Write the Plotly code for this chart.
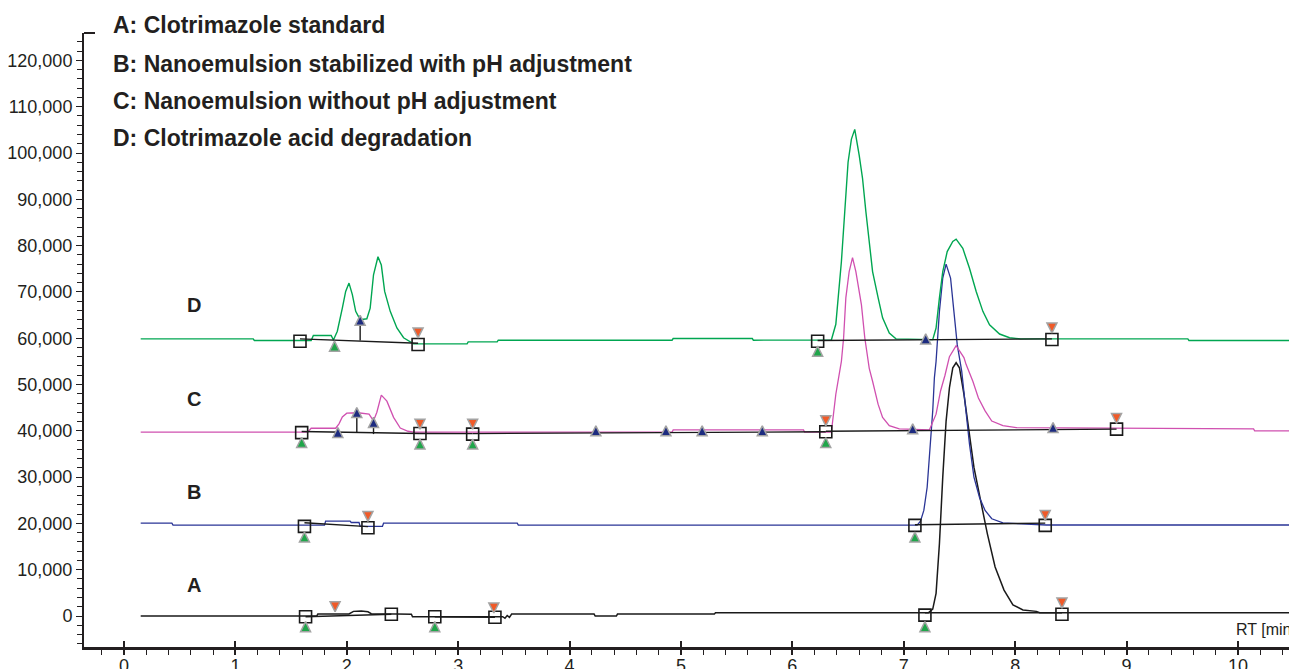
import plotly.graph_objects as go

FONT = "Liberation Sans, Arial, sans-serif"
INK = "#231f20"

# ---------------- chromatogram traces (RT [min], signal incl. offset) ----------------
a_t = [0.15, 1.73, 1.74, 2.02, 2.06, 2.13, 2.19, 2.22, 2.45, 2.58, 2.59, 3.40, 3.42, 3.44, 3.46, 3.48,
       4.22, 4.23, 4.42, 4.43, 5.30, 5.31, 7.22, 7.26, 7.29, 7.32, 7.35, 7.38, 7.41, 7.44, 7.47,
       7.50, 7.54, 7.59, 7.63, 7.69, 7.75, 7.82, 7.90, 7.98, 8.07, 8.19, 8.22, 10.6]
a_v = [0, 0, 430, 430, 1000, 1100, 900, 500, 450, 400, -150, -150, -500, 100, -300, 430,
       430, 0, 0, 430, 430, 700, 700, 1500, 4900, 15600, 30000, 42100, 49300, 53600, 54700,
       53600, 47900, 39300, 32100, 24900, 17800, 10600, 5600, 2400, 1300, 1000, 700, 700]

b_t = [0.15, 0.43, 0.44, 1.80, 1.81, 2.03, 2.04, 2.11, 2.12, 2.32, 2.33, 3.53, 3.54, 7.12, 7.15,
       7.18, 7.21, 7.24, 7.26, 7.275, 7.29, 7.32, 7.35, 7.38, 7.42, 7.45, 7.48, 7.52, 7.56, 7.59,
       7.63, 7.68, 7.73, 7.79, 7.89, 8.04, 8.28, 10.6]
b_v = [20050, 20050, 19630, 19630, 20500, 20500, 20200, 20200, 19350, 19350, 20050, 20050, 19630, 19630, 20500,
       22800, 27800, 37100, 44300, 51500, 55000, 65800, 73000, 76000, 73000, 65800, 58600, 52900, 44300, 37100,
       30000, 25600, 22800, 21000, 20100, 19900, 19650, 19650]

c_t = [0.15, 1.65, 1.68, 1.90, 1.93, 1.96, 2.00, 2.10, 2.20, 2.24, 2.27, 2.31, 2.36, 2.42, 2.48, 2.55,
       2.60, 4.92, 4.93, 6.10, 6.11, 6.35, 6.39, 6.44, 6.46, 6.48, 6.51, 6.54, 6.57, 6.62, 6.65,
       6.69, 6.72, 6.77, 6.81, 6.87, 6.96, 7.23, 7.29, 7.33, 7.37, 7.41, 7.47, 7.54, 7.56, 7.62,
       7.67, 7.73, 7.79, 7.89, 8.01, 10.14, 10.15, 10.6]
c_v = [39700, 39700, 40550, 40550, 41500, 43000, 43800, 43900, 43600, 42150, 44000, 47700, 46400, 42900, 40600, 39900,
       39700, 39700, 40200, 40200, 39700, 39700, 47900, 55000, 60100, 68700, 74400, 77400, 74400, 67200, 60100,
       53500, 50700, 45700, 42900, 41100, 40400, 40200, 43600, 48600, 52000, 56000, 58400, 55800, 54300, 50700,
       47100, 44300, 42100, 41100, 40700, 40400, 40000, 40000]

d_t = [0.15, 1.16, 1.17, 1.68, 1.70, 1.86, 1.88, 1.915, 1.96, 1.99, 2.02, 2.05, 2.08, 2.12, 2.18, 2.21,
       2.24, 2.28, 2.31, 2.34, 2.39, 2.45, 2.51, 2.57, 2.60, 3.08, 3.09, 3.35, 3.36, 4.92, 4.93,
       5.64, 5.65, 6.35, 6.39, 6.44, 6.47, 6.50, 6.53, 6.56, 6.60, 6.63, 6.66, 6.69, 6.72, 6.77,
       6.81, 6.87, 6.93, 7.26, 7.29, 7.32, 7.35, 7.39, 7.44, 7.47, 7.53, 7.59, 7.65, 7.71, 7.77,
       7.86, 7.95, 8.05, 9.55, 9.56, 10.6]
d_v = [59850, 59850, 59500, 59500, 60580, 60580, 59600, 61500, 66500, 70100, 71900, 69400, 65800, 64000, 64200, 66500,
       73700, 77600, 75800, 70100, 65800, 62200, 60100, 59200, 58770, 58770, 59200, 59200, 59570, 59570, 59930,
       59930, 59570, 59600, 63000, 76500, 87300, 98000, 103000, 105100, 99500, 94500, 87300, 80200, 74400, 68700,
       64400, 61100, 59850, 59700, 62200, 68700, 74400, 78700, 80900, 81400, 79400, 75100, 70100, 65800, 62900,
       60900, 60100, 59850, 59850, 59500, 59500]

# ---------------- integration marks ----------------
sq_t = [1.63, 2.40, 2.79, 3.33, 7.19, 8.42,
        1.62, 2.19, 7.10, 8.27,
        1.595, 2.657, 3.13, 6.30, 8.91,
        1.58, 2.64, 6.227, 8.33]
sq_v = [-150, 370, -150, -280, 200, 370,
        19350, 19070, 19570, 19570,
        39600, 39420, 39290, 39780, 40360,
        59350, 58640, 59350, 59720]

# peak start (green, pointing up, apex value)
start_t = [1.63, 2.79, 7.19, 1.62, 7.10, 1.595, 2.657, 3.13, 6.30, 1.89, 6.227]
start_v = [-1230, -1230, -1230, 18130, 18130, 38560, 38210, 38210, 38560, 59350, 58280]

# peak end (red, pointing down, apex value)
end_t = [1.895, 3.32, 8.42, 2.19, 8.27, 2.657, 3.13, 6.30, 8.91, 2.64, 8.33]
end_v = [920, 650, 1720, 20430, 20640, 40360, 40360, 41070, 41570, 60060, 61140]

# peak split / detection marks (navy, pointing up, apex value)
split_t = [1.92, 2.09, 2.24, 4.236, 4.865, 5.19, 5.73, 7.08, 8.34, 2.12, 7.197]
split_v = [40710, 45010, 42860, 41070, 41070, 41070, 41070, 41500, 41780, 64940, 60920]

# baselines drawn under peaks
bl_t0 = [1.63, 2.79, 7.19, 1.62, 7.10, 1.595, 2.657, 3.13, 6.30, 1.58, 6.227]
bl_v0 = [-150, -150, 700, 20150, 19700, 39850, 39420, 39400, 39900, 59850, 59500]
bl_t1 = [2.40, 3.33, 8.42, 2.19, 8.27, 2.657, 3.13, 6.30, 8.91, 2.64, 8.33]
bl_v1 = [370, -280, 700, 19300, 20060, 39420, 39400, 39780, 40360, 58900, 59850]

# drop lines
drop_t = [2.09, 2.24, 2.12]
drop_lo = [39550, 39290, 59500]
drop_hi = [44670, 42860, 64730]

# ---------------- axes / text ----------------
x_range = [-0.359, 10.53]
y_range = [-6695, 125918]
legend_lines = ["A: Clotrimazole standard",
                "B: Nanoemulsion stabilized with pH adjustment",
                "C: Nanoemulsion without pH adjustment",
                "D: Clotrimazole acid degradation"]
legend_y_px = [25, 64, 100.5, 138]
trace_labels = ["D", "C", "B", "A"]
trace_label_y = [67170, 46870, 26780, 6700]

fig = go.Figure()

for t, v, col, w in [(a_t, a_v, "#1a1a1a", 1.5), (b_t, b_v, "#2a3596", 1.3),
                     (c_t, c_v, "#d050b0", 1.3), (d_t, d_v, "#00a651", 1.4)]:
    fig.add_trace(go.Scatter(x=t, y=v, mode="lines", line=dict(color=col, width=w),
                             hoverinfo="skip", showlegend=False))

bx, by = [], []
for t0, v0, t1, v1 in zip(bl_t0, bl_v0, bl_t1, bl_v1):
    bx += [t0, t1, None]
    by += [v0, v1, None]
for t, lo, hi in zip(drop_t, drop_lo, drop_hi):
    bx += [t, t, None]
    by += [lo, hi, None]
fig.add_trace(go.Scatter(x=bx, y=by, mode="lines", line=dict(color="#1a1a1a", width=1.4),
                         hoverinfo="skip", showlegend=False))

fig.add_trace(go.Scatter(x=sq_t, y=sq_v, mode="markers",
                         marker=dict(symbol="square-open", size=12, color="#1a1a1a", line=dict(width=1.6)),
                         hoverinfo="skip", showlegend=False))

tri_line = dict(color="#a3a3a3", width=1.5)
fig.add_trace(go.Scatter(x=start_t, y=start_v, mode="markers",
                         marker=dict(symbol="arrow-up", size=10, color="#1fa64a", line=tri_line),
                         hoverinfo="skip", showlegend=False))
fig.add_trace(go.Scatter(x=end_t, y=end_v, mode="markers",
                         marker=dict(symbol="arrow-down", size=10, color="#f05a28", line=tri_line),
                         hoverinfo="skip", showlegend=False))
fig.add_trace(go.Scatter(x=split_t, y=split_v, mode="markers",
                         marker=dict(symbol="arrow-up", size=10, color="#1d2b80", line=tri_line),
                         hoverinfo="skip", showlegend=False))

# invisible trace to carry the overlay axis for inward major ticks
fig.add_trace(go.Scatter(x=[x_range[0]], y=[0], xaxis="x2", mode="markers",
                         marker=dict(opacity=0), hoverinfo="skip", showlegend=False))

# page body has an 8px margin: size the figure so the plot lands where the reference has it
PLOT_W, PLOT_H = 1213, 614
PLOT_TOP, PLOT_LEFT = 33, 84
fig.update_layout(
    width=1289, height=661,
    margin=dict(l=76, r=0, t=25, b=22),
    plot_bgcolor="white", paper_bgcolor="white",
    showlegend=False,
    font=dict(family=FONT, color=INK),
    xaxis=dict(range=x_range, tickmode="linear", tick0=0, dtick=1,
               ticks="outside", ticklen=5, tickwidth=1.5, tickcolor=INK,
               showline=True, linewidth=2.5, linecolor=INK,
               showgrid=False, zeroline=False, automargin=False,
               ticklabelstandoff=-4,
               tickfont=dict(size=18, family=FONT, color=INK),
               minor=dict(ticks="outside", ticklen=5, tickwidth=1.2, tickcolor=INK,
                          dtick=0.2, tick0=0, showgrid=False)),
    xaxis2=dict(range=x_range, overlaying="x", anchor="y", side="bottom",
                tickmode="linear", tick0=0, dtick=1,
                ticks="inside", ticklen=6, tickwidth=1.5, tickcolor=INK,
                showticklabels=False, showline=False, showgrid=False, zeroline=False,
                automargin=False),
    yaxis=dict(range=y_range, tickmode="linear", tick0=0, dtick=10000, tickformat=",d",
               ticks="outside", ticklen=6, tickwidth=1.3, tickcolor=INK,
               showline=True, linewidth=2, linecolor=INK,
               showgrid=False, zeroline=False, automargin=False,
               tickfont=dict(size=18, family=FONT, color=INK),
               minor=dict(ticks="outside", ticklen=5, tickwidth=1.1, tickcolor=INK,
                          dtick=2000, tick0=0, showgrid=False)),
)

# small cap at the top of the y axis
fig.add_shape(type="line", xref="paper", yref="paper", x0=0, x1=11 / PLOT_W, y0=1, y1=1,
              line=dict(color=INK, width=2))

for txt, ypx in zip(legend_lines, legend_y_px):
    fig.add_annotation(text="<b>" + txt + "</b>", xref="paper", yref="paper",
                       x=(111 - PLOT_LEFT) / PLOT_W, y=(PLOT_TOP + PLOT_H - ypx) / PLOT_H,
                       xanchor="left", yanchor="middle", showarrow=False,
                       font=dict(size=23, family=FONT, color=INK))

for lab, yv in zip(trace_labels, trace_label_y):
    fig.add_annotation(text="<b>" + lab + "</b>", x=0.63, y=yv, xref="x", yref="y",
                       xanchor="center", yanchor="middle", showarrow=False,
                       font=dict(size=20, family=FONT, color=INK))

fig.add_annotation(text="RT [min]", x=9.965, y=-3020, xref="x", yref="y",
                   xanchor="left", yanchor="middle", showarrow=False,
                   font=dict(size=16, family=FONT, color=INK))

fig.write_html("out.html")
